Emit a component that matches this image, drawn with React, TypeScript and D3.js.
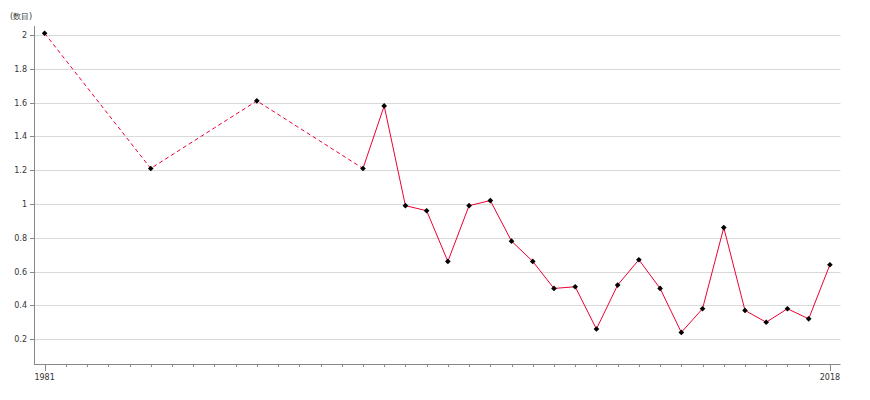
import React from "react";
import * as d3 from "d3";

const years = [1981, 1986, 1991, 1996, 1997, 1998, 1999, 2000, 2001, 2002, 2003, 2004, 2005, 2006, 2007, 2008, 2009, 2010, 2011, 2012, 2013, 2014, 2015, 2016, 2017, 2018];
const values = [2.01, 1.21, 1.61, 1.21, 1.58, 0.99, 0.96, 0.66, 0.99, 1.02, 0.78, 0.66, 0.50, 0.51, 0.26, 0.52, 0.67, 0.50, 0.24, 0.38, 0.86, 0.37, 0.30, 0.38, 0.32, 0.64];
const yTicks = [0.2, 0.4, 0.6, 0.8, 1, 1.2, 1.4, 1.6, 1.8, 2];
const xLabelYears = [1981, 2018];
const dashedUntil = 1996;
const unitLabel = "(数目)";

export default function App() {
  const W = 870, H = 400;
  const x = d3.scaleLinear().domain([1980.5, 2018.5]).range([34, 840.5]);
  const y = d3.scaleLinear().domain([0.05, 2.05]).range([364.5, 26.5]);
  const pts = years.map((yr, i) => ({ yr, v: values[i] }));
  const line = d3.line<{ yr: number; v: number }>().x(d => x(d.yr)).y(d => y(d.v));
  const dashedPts = pts.filter(p => p.yr <= dashedUntil);
  const solidPts = pts.filter(p => p.yr >= dashedUntil);
  const allYears = d3.range(1981, 2019);
  const marker = d3.symbol().type(d3.symbolSquare).size(16)();
  const font = "'DejaVu Sans', sans-serif";
  return (
    <svg width={W} height={H} style={{ position: "absolute", left: 0, top: 0 }} fontFamily={font}>
      <rect width={W} height={H} fill="#fff" />
      <text x={10} y={19} fontSize={8} fill="#333">{unitLabel}</text>
      {yTicks.map(t => (
        <g key={t}>
          <line x1={34} x2={840.5} y1={Math.round(y(t)) + 0.5} y2={Math.round(y(t)) + 0.5} stroke="#d9d9d9" />
          <line x1={30} x2={34} y1={Math.round(y(t)) + 0.5} y2={Math.round(y(t)) + 0.5} stroke="#888" />
          <text x={27} y={y(t) + 3} fontSize={8} textAnchor="end" fill="#333">{t}</text>
        </g>
      ))}
      <line x1={34.5} x2={34.5} y1={26} y2={364} stroke="#888" />
      <line x1={34} x2={840.5} y1={364.5} y2={364.5} stroke="#888" />
      {allYears.map(yr => {
        const lab = xLabelYears.includes(yr);
        const xx = Math.round(x(yr)) + 0.5;
        return (
          <g key={yr}>
            <line x1={xx} x2={xx} y1={364} y2={lab ? 371 : 367} stroke="#888" />
            {lab && <text x={x(yr)} y={380} fontSize={8} textAnchor="middle" fill="#333">{yr}</text>}
          </g>
        );
      })}
      <path d={line(dashedPts) || ""} fill="none" stroke="#ee0033" strokeWidth={1} strokeDasharray="4,3" />
      <path d={line(solidPts) || ""} fill="none" stroke="#ee0033" strokeWidth={1} />
      {pts.map(p => (
        <path key={p.yr} d={marker || ""} transform={`translate(${x(p.yr)},${y(p.v)}) rotate(45)`} fill="#000" />
      ))}
    </svg>
  );
}
